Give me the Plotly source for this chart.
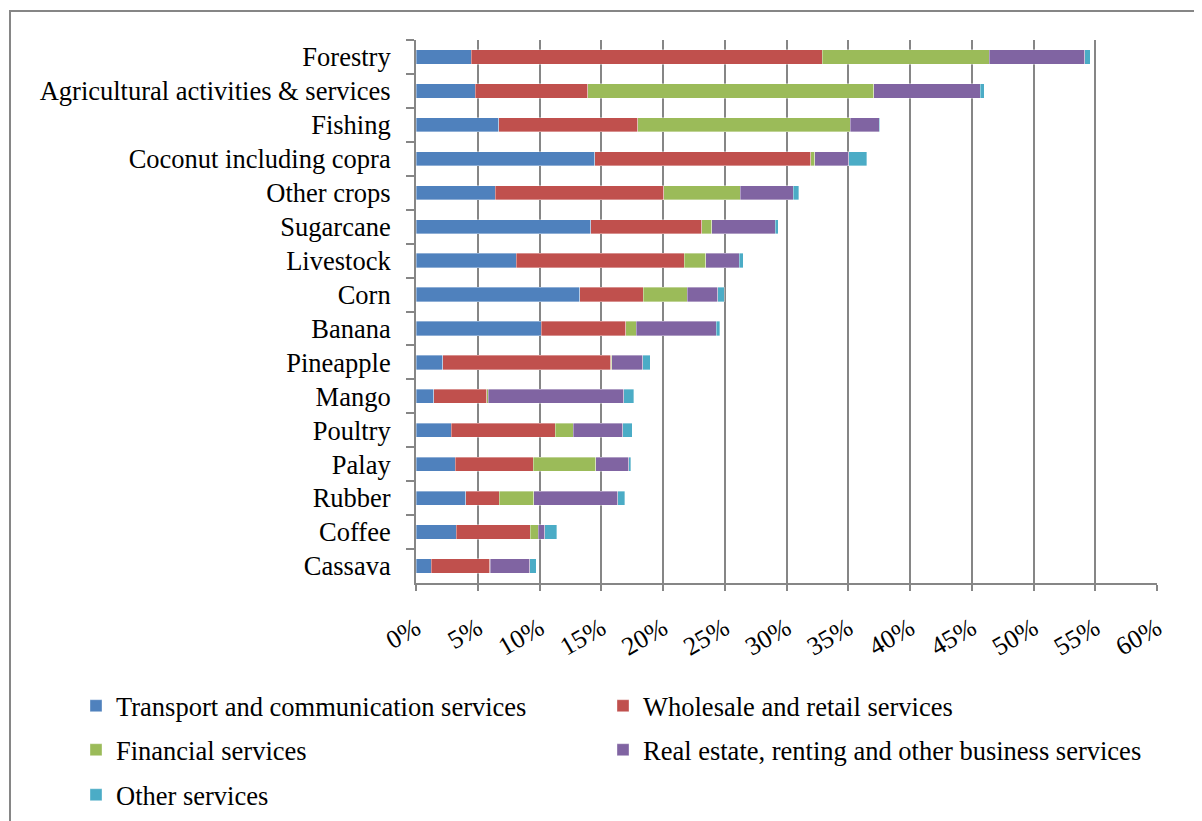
import plotly.graph_objects as go

categories = ["Forestry", "Agricultural activities & services", "Fishing", "Coconut including copra",
              "Other crops", "Sugarcane", "Livestock", "Corn", "Banana", "Pineapple", "Mango",
              "Poultry", "Palay", "Rubber", "Coffee", "Cassava"]

transport = [4.46, 4.78, 6.70, 14.49, 6.40, 14.14, 8.11, 13.27, 10.14, 2.16, 1.43, 2.84, 3.16, 4.02, 3.27, 1.22]
wholesale = [28.45, 9.14, 11.27, 17.49, 13.68, 9.00, 13.63, 5.14, 6.83, 13.62, 4.30, 8.43, 6.35, 2.71, 6.00, 4.75]
financial = [13.50, 23.14, 17.20, 0.30, 6.19, 0.79, 1.72, 3.57, 0.87, 0.08, 0.13, 1.46, 5.03, 2.81, 0.62, 0.06]
realestate = [7.75, 8.62, 2.32, 2.78, 4.27, 5.15, 2.71, 2.46, 6.46, 2.52, 10.95, 4.00, 2.70, 6.79, 0.52, 3.18]
other = [0.45, 0.35, 0.05, 1.44, 0.46, 0.25, 0.32, 0.51, 0.30, 0.57, 0.81, 0.76, 0.14, 0.56, 0.97, 0.52]

series_names = ["Transport and communication services", "Wholesale and retail services",
                "Financial services", "Real estate, renting and other business services",
                "Other services"]
series_values = [transport, wholesale, financial, realestate, other]
colors = ["#4F81BD", "#C0504D", "#9BBB59", "#8064A2", "#4BACC6"]
legend_ids = ["legend", "legend2", "legend3", "legend4", "legend5"]

tick_vals = [0, 5, 10, 15, 20, 25, 30, 35, 40, 45, 50, 55, 60]
tick_text = [f"{v}%" for v in tick_vals]

W, H = 1194, 813
L, R, T, B = 408, 45, 32, 238
pw, ph = W - L - R, H - T - B

def px(x):
    return (x - L) / pw

def py(y):
    return (H - B - y) / ph

fig = go.Figure()
for name, vals, col, lg in zip(series_names, series_values, colors, legend_ids):
    fig.add_trace(go.Bar(
        y=categories, x=vals, name=name, orientation="h",
        marker=dict(color=col, line=dict(width=0.6, color="rgba(255,255,255,0.6)")),
        legend=lg, showlegend=True,
    ))

font_family = "Liberation Serif, Times New Roman, serif"
legend_common = dict(orientation="v", xanchor="left", yanchor="middle",
                     font=dict(family=font_family, size=26.5, color="black"),
                     bgcolor="rgba(0,0,0,0)", itemwidth=30, visible=True)

col_x = [68, 595]
row_y = [698, 742, 787]

fig.update_layout(
    width=W, height=H,
    margin=dict(l=L, r=R, t=T, b=B, autoexpand=False),
    barmode="stack", bargap=0.58,
    showlegend=True,
    plot_bgcolor="white", paper_bgcolor="white",
    font=dict(family=font_family, color="black"),
    legend=dict(x=px(col_x[0]), y=py(row_y[0]), **legend_common),
    legend2=dict(x=px(col_x[1]), y=py(row_y[0]), **legend_common),
    legend3=dict(x=px(col_x[0]), y=py(row_y[1]), **legend_common),
    legend4=dict(x=px(col_x[1]), y=py(row_y[1]), **legend_common),
    legend5=dict(x=px(col_x[0]), y=py(row_y[2]), **legend_common),
    xaxis=dict(range=[0, 60], tickvals=tick_vals, ticktext=tick_text,
               tickangle=-30, showgrid=True, gridcolor="#868686", gridwidth=2,
               showline=True, linecolor="#868686", linewidth=2,
               ticks="outside", ticklen=6, tickcolor="#868686", tickwidth=2,
               tickfont=dict(family=font_family, size=26, color="black"),
               ticklabelstandoff=12, zeroline=False, automargin=False),
    yaxis=dict(autorange="reversed", type="category", tickson="boundaries",
               showline=True, linecolor="#868686", linewidth=2,
               ticks="outside", ticklen=8, tickcolor="#868686", tickwidth=2,
               tickfont=dict(family=font_family, size=26.5, color="black"),
               showgrid=False, ticklabelstandoff=18, automargin=False),
    shapes=[dict(type="rect", xref="paper", yref="paper",
                 x0=px(2), x1=px(1215), y0=py(840), y1=py(3),
                 line=dict(color="#868686", width=2), fillcolor="rgba(0,0,0,0)",
                 layer="below")],
)

fig.write_html("out.html")
